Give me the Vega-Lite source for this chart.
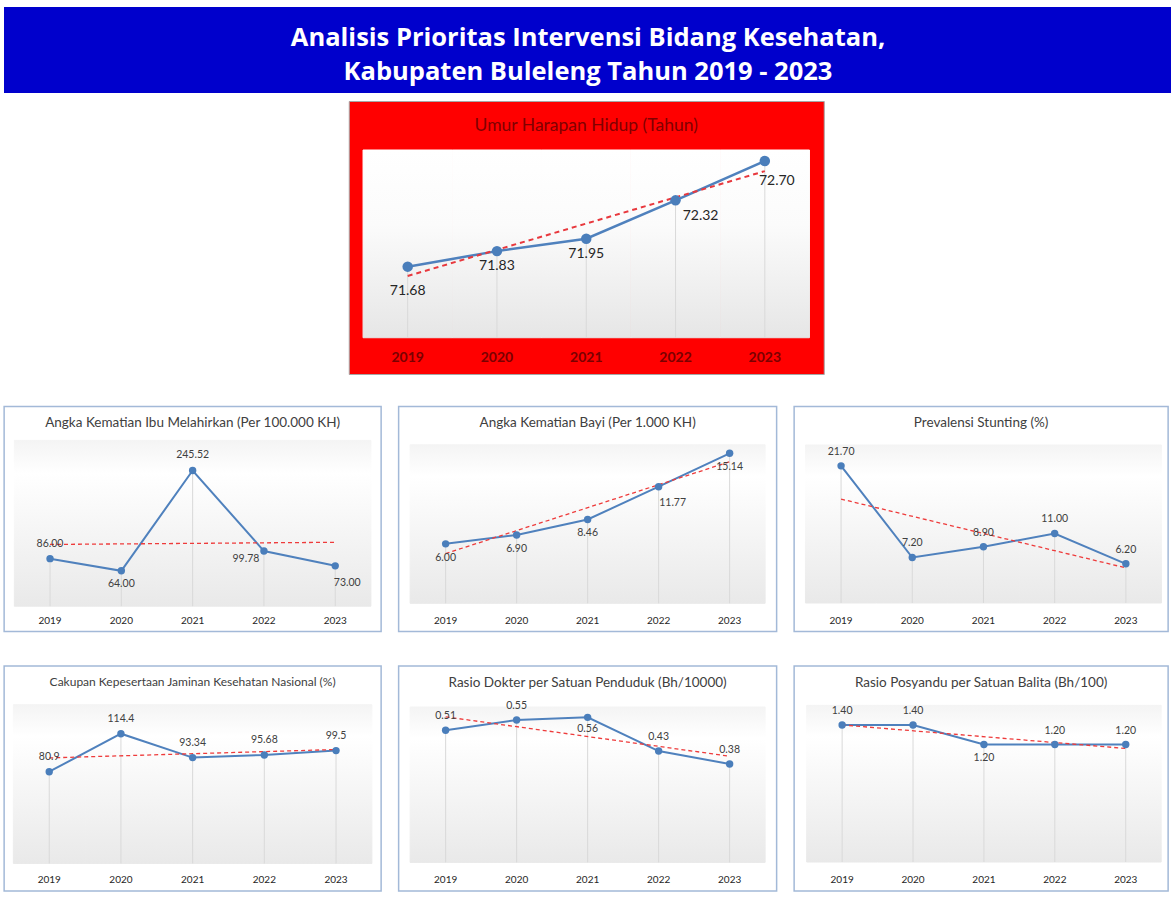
{
  "$schema": "https://vega.github.io/schema/vega-lite/v6.json",
  "padding": {"left": 3, "top": 7, "right": 0, "bottom": 0},
  "background": "#ffffff",
  "config": {
    "axisX": {"domain": false, "ticks": false, "tickSize": 0, "grid": false, "labelBaseline": "middle", "labelAngle": 0, "labelFont": "Lato", "labelFontSize": 10, "labelColor": "#262626", "labelPadding": -11.5},
    "title": {"font": "Lato", "fontWeight": "normal", "fontSize": 13.5, "color": "#404040", "anchor": "middle", "frame": "group", "offset": -23},
    "text": {"font": "Lato", "fontSize": 10.5, "color": "#404040"}
  },
  "datasets": {
    "banner": [
      {"n": 1, "line": "Analisis Prioritas Intervensi Bidang Kesehatan,"},
      {"n": 2, "line": "Kabupaten Buleleng Tahun 2019 - 2023"}
    ],
    "uhh": [
      {"year": 2019, "value": 71.68, "label": "71.68"},
      {"year": 2020, "value": 71.83, "label": "71.83"},
      {"year": 2021, "value": 71.95, "label": "71.95"},
      {"year": 2022, "value": 72.32, "label": "72.32"},
      {"year": 2023, "value": 72.70, "label": "72.70"}
    ],
    "aki": [
      {"year": 2019, "value": 86.00, "label": "86.00"},
      {"year": 2020, "value": 64.00, "label": "64.00"},
      {"year": 2021, "value": 245.52, "label": "245.52"},
      {"year": 2022, "value": 99.78, "label": "99.78"},
      {"year": 2023, "value": 73.00, "label": "73.00"}
    ],
    "akb": [
      {"year": 2019, "value": 6.00, "label": "6.00"},
      {"year": 2020, "value": 6.90, "label": "6.90"},
      {"year": 2021, "value": 8.46, "label": "8.46"},
      {"year": 2022, "value": 11.77, "label": "11.77"},
      {"year": 2023, "value": 15.14, "label": "15.14"}
    ],
    "stunting": [
      {"year": 2019, "value": 21.70, "label": "21.70"},
      {"year": 2020, "value": 7.20, "label": "7.20"},
      {"year": 2021, "value": 8.90, "label": "8.90"},
      {"year": 2022, "value": 11.00, "label": "11.00"},
      {"year": 2023, "value": 6.20, "label": "6.20"}
    ],
    "jkn": [
      {"year": 2019, "value": 80.9, "label": "80.9"},
      {"year": 2020, "value": 114.4, "label": "114.4"},
      {"year": 2021, "value": 93.34, "label": "93.34"},
      {"year": 2022, "value": 95.68, "label": "95.68"},
      {"year": 2023, "value": 99.5, "label": "99.5"}
    ],
    "dokter": [
      {"year": 2019, "value": 0.51, "label": "0.51"},
      {"year": 2020, "value": 0.55, "label": "0.55"},
      {"year": 2021, "value": 0.56, "label": "0.56"},
      {"year": 2022, "value": 0.43, "label": "0.43"},
      {"year": 2023, "value": 0.38, "label": "0.38"}
    ],
    "posyandu": [
      {"year": 2019, "value": 1.40, "label": "1.40"},
      {"year": 2020, "value": 1.40, "label": "1.40"},
      {"year": 2021, "value": 1.20, "label": "1.20"},
      {"year": 2022, "value": 1.20, "label": "1.20"},
      {"year": 2023, "value": 1.20, "label": "1.20"}
    ]
  },
  "spacing": 7,
  "vconcat": [
    {
      "width": 1168, "height": 86,
      "data": {"name": "banner"},
      "view": {"fill": "#0000cc", "stroke": null},
      "mark": {"type": "text", "font": "Open Sans", "fontSize": 25.5, "fontWeight": "bold", "color": "#ffffff"},
      "encoding": {
        "y": {"field": "n", "type": "ordinal", "scale": {"type": "point", "padding": 0.765, "align": 0.6}, "axis": null},
        "text": {"field": "line"}
      }
    },
    {
      "spacing": 30.5,
      "center": true,
      "vconcat": [
        {
          "width": 475, "height": 273,
          "data": {"name": "uhh"},
          "view": {"fill": "#ff0000", "stroke": "#a6a6a6", "strokeWidth": 1},
          "title": {"text": "Umur Harapan Hidup (Tahun)", "fontSize": 17.5, "color": "#800000", "offset": -33},
          "encoding": {
            "x": {"field": "year", "type": "ordinal", "scale": {"type": "band", "paddingInner": 0, "paddingOuter": 0.16}, "axis": {"title": null, "labelFontSize": 14, "labelFontWeight": "bold", "labelColor": "#7a0000", "labelPadding": -17}},
            "y": {"field": "value", "type": "quantitative", "scale": {"domain": [70.644, 73.279], "nice": false, "zero": false}, "axis": null}
          },
          "layer": [
            {"mark": {"type": "rect", "color": {"gradient": "linear", "x1": 0, "y1": 0, "x2": 0, "y2": 1, "stops": [{"offset": 0, "color": "#ffffff"}, {"offset": 0.4, "color": "#fbfbfb"}, {"offset": 1, "color": "#e6e6e6"}]}, "stroke": {"gradient": "linear", "x1": 0, "y1": 0, "x2": 0, "y2": 1, "stops": [{"offset": 0, "color": "#ffffff"}, {"offset": 0.4, "color": "#fbfbfb"}, {"offset": 1, "color": "#e6e6e6"}]}, "strokeWidth": 1}, "encoding": {"y": {"datum": 72.806}, "y2": {"datum": 70.994}}},
            {"mark": {"type": "rule", "color": "#d9d9d9", "strokeWidth": 1}, "encoding": {"y2": {"datum": 70.994}}},
            {"mark": {"type": "line", "color": "#4f81bd", "strokeWidth": 2.5}, "encoding": {}},
            {"transform": [{"regression": "value", "on": "year", "extent": [2019, 2023]}], "mark": {"type": "line", "color": "#e8383d", "strokeWidth": 2, "strokeDash": [5, 4]}, "encoding": {}},
            {"mark": {"type": "point", "filled": true, "opacity": 1, "size": 110, "color": "#4a7ebb"}, "encoding": {}},
            {"transform": [{"filter": {"field": "year", "oneOf": [2019]}}], "mark": {"type": "text", "fontSize": 14, "color": "#262626", "dy": 24}, "encoding": {"text": {"field": "label"}}},
            {"transform": [{"filter": {"field": "year", "oneOf": [2020, 2021]}}], "mark": {"type": "text", "fontSize": 14, "color": "#262626", "dy": 15}, "encoding": {"text": {"field": "label"}}},
            {"transform": [{"filter": {"field": "year", "oneOf": [2022]}}], "mark": {"type": "text", "fontSize": 14, "color": "#262626", "dx": 25, "dy": 16}, "encoding": {"text": {"field": "label"}}},
            {"transform": [{"filter": {"field": "year", "oneOf": [2023]}}], "mark": {"type": "text", "fontSize": 14, "color": "#262626", "dx": 12, "dy": 20}, "encoding": {"text": {"field": "label"}}}
          ]
        },
        {
          "spacing": 32.5,
          "vconcat": [
            {
              "spacing": 15.5,
              "hconcat": [
                {
                  "width": 377, "height": 225,
                  "data": {"name": "aki"},
                  "view": {"fill": "#ffffff", "stroke": "#a3b9d8", "strokeWidth": 1.5},
                  "title": {"text": "Angka Kematian Ibu Melahirkan (Per 100.000 KH)"},
                  "encoding": {
                    "x": {"field": "year", "type": "ordinal", "scale": {"type": "band", "paddingInner": 0, "paddingOuter": 0.1437}, "axis": {"title": null}},
                    "y": {"field": "value", "type": "quantitative", "scale": {"domain": [-45.8, 361.3], "nice": false, "zero": false}, "axis": null}
                  },
                  "layer": [
                    {"mark": {"type": "rect", "color": {"gradient": "linear", "x1": 0, "y1": 0, "x2": 0, "y2": 1, "stops": [{"offset": 0, "color": "#f4f4f4"}, {"offset": 0.2, "color": "#ffffff"}, {"offset": 1, "color": "#e9e9e9"}]}, "stroke": {"gradient": "linear", "x1": 0, "y1": 0, "x2": 0, "y2": 1, "stops": [{"offset": 0, "color": "#f4f4f4"}, {"offset": 0.2, "color": "#ffffff"}, {"offset": 1, "color": "#e9e9e9"}]}, "strokeWidth": 1}, "encoding": {"y": {"datum": 300}, "y2": {"datum": 0}}},
                    {"mark": {"type": "rule", "color": "#d9d9d9", "strokeWidth": 1}, "encoding": {"y2": {"datum": 0}}},
                    {"mark": {"type": "line", "color": "#4f81bd", "strokeWidth": 2}, "encoding": {}},
                    {"transform": [{"regression": "value", "on": "year", "extent": [2019, 2023]}], "mark": {"type": "line", "color": "#ee3b3b", "strokeWidth": 1.3, "strokeDash": [4, 3]}, "encoding": {}},
                    {"mark": {"type": "point", "filled": true, "opacity": 1, "size": 55, "color": "#4a7ebb"}, "encoding": {}},
                    {"transform": [{"filter": {"field": "year", "oneOf": [2019, 2021]}}], "mark": {"type": "text", "dy": -15}, "encoding": {"text": {"field": "label"}}},
                    {"transform": [{"filter": {"field": "year", "oneOf": [2020]}}], "mark": {"type": "text", "dy": 13}, "encoding": {"text": {"field": "label"}}},
                    {"transform": [{"filter": {"field": "year", "oneOf": [2022]}}], "mark": {"type": "text", "dx": -18, "dy": 8}, "encoding": {"text": {"field": "label"}}},
                    {"transform": [{"filter": {"field": "year", "oneOf": [2023]}}], "mark": {"type": "text", "dx": 12, "dy": 17}, "encoding": {"text": {"field": "label"}}}
                  ]
                },
                {
                  "width": 378, "height": 225,
                  "data": {"name": "akb"},
                  "view": {"fill": "#ffffff", "stroke": "#a3b9d8", "strokeWidth": 1.5},
                  "title": {"text": "Angka Kematian Bayi (Per 1.000 KH)"},
                  "encoding": {
                    "x": {"field": "year", "type": "ordinal", "scale": {"type": "band", "paddingInner": 0, "paddingOuter": 0.162}, "axis": {"title": null}},
                    "y": {"field": "value", "type": "quantitative", "scale": {"domain": [-2.846, 19.865], "nice": false, "zero": false}, "axis": null}
                  },
                  "layer": [
                    {"mark": {"type": "rect", "color": {"gradient": "linear", "x1": 0, "y1": 0, "x2": 0, "y2": 1, "stops": [{"offset": 0, "color": "#f4f4f4"}, {"offset": 0.2, "color": "#ffffff"}, {"offset": 1, "color": "#e9e9e9"}]}, "stroke": {"gradient": "linear", "x1": 0, "y1": 0, "x2": 0, "y2": 1, "stops": [{"offset": 0, "color": "#f4f4f4"}, {"offset": 0.2, "color": "#ffffff"}, {"offset": 1, "color": "#e9e9e9"}]}, "strokeWidth": 1}, "encoding": {"y": {"datum": 16}, "y2": {"datum": 0}}},
                    {"mark": {"type": "rule", "color": "#d9d9d9", "strokeWidth": 1}, "encoding": {"y2": {"datum": 0}}},
                    {"mark": {"type": "line", "color": "#4f81bd", "strokeWidth": 2}, "encoding": {}},
                    {"transform": [{"regression": "value", "on": "year", "extent": [2019, 2023]}], "mark": {"type": "line", "color": "#ee3b3b", "strokeWidth": 1.3, "strokeDash": [4, 3]}, "encoding": {}},
                    {"mark": {"type": "point", "filled": true, "opacity": 1, "size": 55, "color": "#4a7ebb"}, "encoding": {}},
                    {"transform": [{"filter": {"field": "year", "oneOf": [2019, 2020, 2021, 2023]}}], "mark": {"type": "text", "dy": 14}, "encoding": {"text": {"field": "label"}}},
                    {"transform": [{"filter": {"field": "year", "oneOf": [2022]}}], "mark": {"type": "text", "dx": 14, "dy": 16}, "encoding": {"text": {"field": "label"}}}
                  ]
                },
                {
                  "width": 374, "height": 225,
                  "data": {"name": "stunting"},
                  "view": {"fill": "#ffffff", "stroke": "#a3b9d8", "strokeWidth": 1.5},
                  "title": {"text": "Prevalensi Stunting (%)"},
                  "encoding": {
                    "x": {"field": "year", "type": "ordinal", "scale": {"type": "band", "paddingInner": 0, "paddingOuter": 0.1264, "align": 0.63}, "axis": {"title": null}},
                    "y": {"field": "value", "type": "quantitative", "scale": {"domain": [-4.51, 31.09], "nice": false, "zero": false}, "axis": null}
                  },
                  "layer": [
                    {"mark": {"type": "rect", "color": {"gradient": "linear", "x1": 0, "y1": 0, "x2": 0, "y2": 1, "stops": [{"offset": 0, "color": "#f4f4f4"}, {"offset": 0.2, "color": "#ffffff"}, {"offset": 1, "color": "#e9e9e9"}]}, "stroke": {"gradient": "linear", "x1": 0, "y1": 0, "x2": 0, "y2": 1, "stops": [{"offset": 0, "color": "#f4f4f4"}, {"offset": 0.2, "color": "#ffffff"}, {"offset": 1, "color": "#e9e9e9"}]}, "strokeWidth": 1}, "encoding": {"y": {"datum": 25}, "y2": {"datum": 0}}},
                    {"mark": {"type": "rule", "color": "#d9d9d9", "strokeWidth": 1}, "encoding": {"y2": {"datum": 0}}},
                    {"mark": {"type": "line", "color": "#4f81bd", "strokeWidth": 2}, "encoding": {}},
                    {"transform": [{"regression": "value", "on": "year", "extent": [2019, 2023]}], "mark": {"type": "line", "color": "#ee3b3b", "strokeWidth": 1.3, "strokeDash": [4, 3]}, "encoding": {}},
                    {"mark": {"type": "point", "filled": true, "opacity": 1, "size": 55, "color": "#4a7ebb"}, "encoding": {}},
                    {"mark": {"type": "text", "dy": -14}, "encoding": {"text": {"field": "label"}}}
                  ]
                }
              ]
            },
            {
              "spacing": 15.5,
              "hconcat": [
                {
                  "width": 377, "height": 225,
                  "data": {"name": "jkn"},
                  "view": {"fill": "#ffffff", "stroke": "#a3b9d8", "strokeWidth": 1.5},
                  "title": {"text": "Cakupan Kepesertaan Jaminan Kesehatan Nasional (%)", "fontSize": 12},
                  "encoding": {
                    "x": {"field": "year", "type": "ordinal", "scale": {"type": "band", "paddingInner": 0, "paddingOuter": 0.129}, "axis": {"title": null}},
                    "y": {"field": "value", "type": "quantitative", "scale": {"domain": [-24.3, 174.1], "nice": false, "zero": false}, "axis": null}
                  },
                  "layer": [
                    {"mark": {"type": "rect", "color": {"gradient": "linear", "x1": 0, "y1": 0, "x2": 0, "y2": 1, "stops": [{"offset": 0, "color": "#f4f4f4"}, {"offset": 0.2, "color": "#ffffff"}, {"offset": 1, "color": "#e9e9e9"}]}, "stroke": {"gradient": "linear", "x1": 0, "y1": 0, "x2": 0, "y2": 1, "stops": [{"offset": 0, "color": "#f4f4f4"}, {"offset": 0.2, "color": "#ffffff"}, {"offset": 1, "color": "#e9e9e9"}]}, "strokeWidth": 1}, "encoding": {"y": {"datum": 140}, "y2": {"datum": 0}}},
                    {"mark": {"type": "rule", "color": "#d9d9d9", "strokeWidth": 1}, "encoding": {"y2": {"datum": 0}}},
                    {"mark": {"type": "line", "color": "#4f81bd", "strokeWidth": 2}, "encoding": {}},
                    {"transform": [{"regression": "value", "on": "year", "extent": [2019, 2023]}], "mark": {"type": "line", "color": "#ee3b3b", "strokeWidth": 1.3, "strokeDash": [4, 3]}, "encoding": {}},
                    {"mark": {"type": "point", "filled": true, "opacity": 1, "size": 55, "color": "#4a7ebb"}, "encoding": {}},
                    {"mark": {"type": "text", "dy": -15}, "encoding": {"text": {"field": "label"}}}
                  ]
                },
                {
                  "width": 378, "height": 225,
                  "data": {"name": "dokter"},
                  "view": {"fill": "#ffffff", "stroke": "#a3b9d8", "strokeWidth": 1.5},
                  "title": {"text": "Rasio Dokter per Satuan Penduduk (Bh/10000)"},
                  "encoding": {
                    "x": {"field": "year", "type": "ordinal", "scale": {"type": "band", "paddingInner": 0, "paddingOuter": 0.162}, "axis": {"title": null}},
                    "y": {"field": "value", "type": "quantitative", "scale": {"domain": [-0.1104, 0.7583], "nice": false, "zero": false}, "axis": null}
                  },
                  "layer": [
                    {"mark": {"type": "rect", "color": {"gradient": "linear", "x1": 0, "y1": 0, "x2": 0, "y2": 1, "stops": [{"offset": 0, "color": "#f4f4f4"}, {"offset": 0.2, "color": "#ffffff"}, {"offset": 1, "color": "#e9e9e9"}]}, "stroke": {"gradient": "linear", "x1": 0, "y1": 0, "x2": 0, "y2": 1, "stops": [{"offset": 0, "color": "#f4f4f4"}, {"offset": 0.2, "color": "#ffffff"}, {"offset": 1, "color": "#e9e9e9"}]}, "strokeWidth": 1}, "encoding": {"y": {"datum": 0.6}, "y2": {"datum": 0}}},
                    {"mark": {"type": "rule", "color": "#d9d9d9", "strokeWidth": 1}, "encoding": {"y2": {"datum": 0}}},
                    {"mark": {"type": "line", "color": "#4f81bd", "strokeWidth": 2}, "encoding": {}},
                    {"transform": [{"regression": "value", "on": "year", "extent": [2019, 2023]}], "mark": {"type": "line", "color": "#ee3b3b", "strokeWidth": 1.3, "strokeDash": [4, 3]}, "encoding": {}},
                    {"mark": {"type": "point", "filled": true, "opacity": 1, "size": 55, "color": "#4a7ebb"}, "encoding": {}},
                    {"transform": [{"filter": {"field": "year", "oneOf": [2019, 2020, 2022, 2023]}}], "mark": {"type": "text", "dy": -14}, "encoding": {"text": {"field": "label"}}},
                    {"transform": [{"filter": {"field": "year", "oneOf": [2021]}}], "mark": {"type": "text", "dy": 12}, "encoding": {"text": {"field": "label"}}}
                  ]
                },
                {
                  "width": 374, "height": 225,
                  "data": {"name": "posyandu"},
                  "view": {"fill": "#ffffff", "stroke": "#a3b9d8", "strokeWidth": 1.5},
                  "title": {"text": "Rasio Posyandu per Satuan Balita (Bh/100)"},
                  "encoding": {
                    "x": {"field": "year", "type": "ordinal", "scale": {"type": "band", "paddingInner": 0, "paddingOuter": 0.1375, "align": 0.644}, "axis": {"title": null}},
                    "y": {"field": "value", "type": "quantitative", "scale": {"domain": [-0.296, 2.002], "nice": false, "zero": false}, "axis": null}
                  },
                  "layer": [
                    {"mark": {"type": "rect", "color": {"gradient": "linear", "x1": 0, "y1": 0, "x2": 0, "y2": 1, "stops": [{"offset": 0, "color": "#f4f4f4"}, {"offset": 0.2, "color": "#ffffff"}, {"offset": 1, "color": "#e9e9e9"}]}, "stroke": {"gradient": "linear", "x1": 0, "y1": 0, "x2": 0, "y2": 1, "stops": [{"offset": 0, "color": "#f4f4f4"}, {"offset": 0.2, "color": "#ffffff"}, {"offset": 1, "color": "#e9e9e9"}]}, "strokeWidth": 1}, "encoding": {"y": {"datum": 1.6}, "y2": {"datum": 0}}},
                    {"mark": {"type": "rule", "color": "#d9d9d9", "strokeWidth": 1}, "encoding": {"y2": {"datum": 0}}},
                    {"mark": {"type": "line", "color": "#4f81bd", "strokeWidth": 2}, "encoding": {}},
                    {"transform": [{"regression": "value", "on": "year", "extent": [2019, 2023]}], "mark": {"type": "line", "color": "#ee3b3b", "strokeWidth": 1.3, "strokeDash": [4, 3]}, "encoding": {}},
                    {"mark": {"type": "point", "filled": true, "opacity": 1, "size": 55, "color": "#4a7ebb"}, "encoding": {}},
                    {"transform": [{"filter": {"field": "year", "oneOf": [2019, 2020, 2022, 2023]}}], "mark": {"type": "text", "dy": -14}, "encoding": {"text": {"field": "label"}}},
                    {"transform": [{"filter": {"field": "year", "oneOf": [2021]}}], "mark": {"type": "text", "dy": 13}, "encoding": {"text": {"field": "label"}}}
                  ]
                }
              ]
            }
          ]
        }
      ]
    }
  ]
}
